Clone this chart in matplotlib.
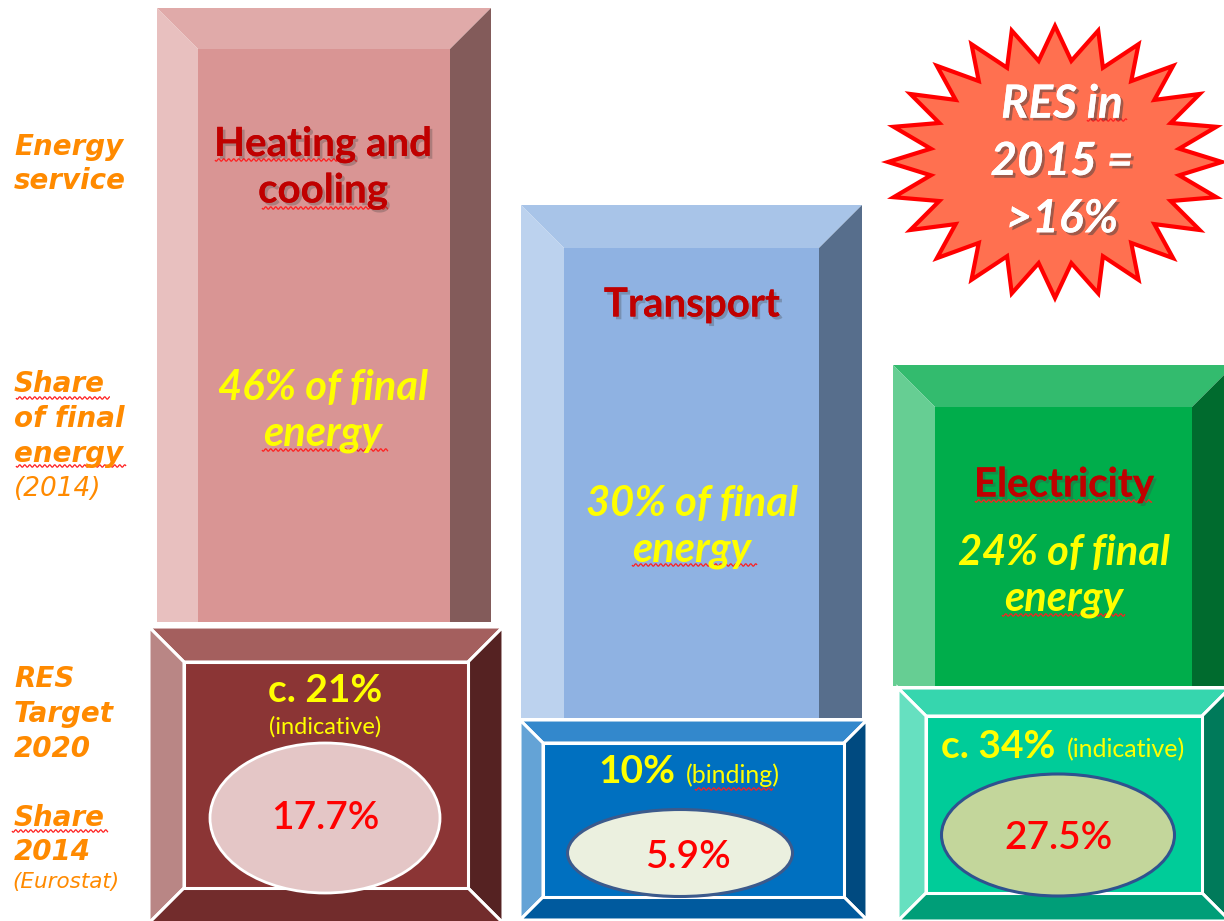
import matplotlib
matplotlib.use("Agg")
import matplotlib.pyplot as plt
import matplotlib.patheffects as pe
import numpy as np
from matplotlib.patches import Polygon, Ellipse

# ─── Data ───
categories = ["Heating and\ncooling", "Transport", "Electricity"]
share_final = ["46% of final\nenergy", "30% of final\nenergy", "24% of final\nenergy"]
res_target = ["c. 21%", "10%", "c. 34%"]
target_note = ["(indicative)", "(binding)", "(indicative)"]
share_2014 = ["17.7%", "5.9%", "27.5%"]
res_2015 = "RES in\n2015 =\n>16%"
row_labels = ["Energy\nservice", "Share\nof final\nenergy", "RES\nTarget\n2020", "Share\n2014"]
row_notes = ["(2014)", "(Eurostat)"]

CAL = ["Lato", "DejaVu Sans"]
ORANGE = "#FF8A00"
YELLOW = "#FFFF00"
DARKRED = "#C00000"


def bevel_box(ax, x0, y0, x1, y1, b, faces, bb=None, edge="none", lw=0):
    """faces = (top, left, right, bottom, centre); y grows downward."""
    bb = b if bb is None else bb
    top, left, right, bottom, centre = faces
    polys = [
        ([(x0, y0), (x1, y0), (x1 - b, y0 + b), (x0 + b, y0 + b)], top),
        ([(x0, y0), (x0 + b, y0 + b), (x0 + b, y1 - bb), (x0, y1)], left),
        ([(x1, y0), (x1 - b, y0 + b), (x1 - b, y1 - bb), (x1, y1)], right),
        ([(x0, y1), (x0 + b, y1 - bb), (x1 - b, y1 - bb), (x1, y1)], bottom),
        ([(x0 + b, y0 + b), (x1 - b, y0 + b), (x1 - b, y1 - bb), (x0 + b, y1 - bb)], centre),
    ]
    for pts, c in polys:
        ax.add_patch(Polygon(pts, closed=True, facecolor=c, edgecolor=edge,
                             linewidth=lw, joinstyle="miter"))


def squiggle(ax, x0, x1, y):
    # spell-check style wavy underline
    xs = np.linspace(x0, x1, int((x1 - x0) * 2))
    ax.plot(xs, y + 1.2 * np.sin((xs - x0) * 2 * np.pi / 5), color="#FF2020", lw=0.9,
            solid_capstyle="butt")


shadow = [pe.withSimplePatchShadow(offset=(2, -2), shadow_rgbFace="#444444", alpha=0.3), pe.Normal()]

fig = plt.figure(figsize=(12.24, 9.21), dpi=100)
ax = fig.add_axes([0, 0, 1, 1])
ax.set_xlim(0, 1224)
ax.set_ylim(921, 0)
ax.axis("off")

# ─── Upper boxes (energy service) ───
bevel_box(ax, 157, 8, 491, 622, 41, ("#E0AAA9", "#E8C0BF", "#835B5A", "#D99594", "#D99594"), bb=0)
bevel_box(ax, 521, 205, 862, 718, 43, ("#A8C4E8", "#BCD2EE", "#576E8C", "#8FB2E2", "#8FB2E2"), bb=0)
bevel_box(ax, 893, 365, 1234, 686, 42, ("#33BB6E", "#66CE93", "#006B2E", "#00AD4B", "#00AD4B"), bb=0)

# ─── Lower boxes (targets) ───
bevel_box(ax, 149, 627, 503, 923, 35, ("#A45F5E", "#B98685", "#552222", "#722C2C", "#8B3535"),
          edge="white", lw=2.2)
bevel_box(ax, 520, 720, 867, 920, 23, ("#3388CC", "#64A3D6", "#004A80", "#005A9E", "#0070C0"),
          edge="white", lw=2.2)
bevel_box(ax, 898, 688, 1230, 921, 28, ("#36D6AE", "#66E0C0", "#007A5A", "#009E78", "#00CC99"),
          edge="white", lw=2.2)

# ─── Ellipses for 2014 shares ───
ax.add_patch(Ellipse((325, 818), 230, 150, facecolor="#E4C6C6", edgecolor="white", lw=2))
ax.add_patch(Ellipse((680, 853), 225, 87, facecolor="#EBF0DF", edgecolor="#3C5A8C", lw=2.2))
ax.add_patch(Ellipse((1058, 835), 233, 122, facecolor="#C3D69B", edgecolor="#2F528F", lw=2.2))

# ─── Text in upper boxes ───
cx_top = [323, 692, 1064]
cy_title = [168, 305, 485]
cy_share = [411, 527, 576]
for i in range(3):
    ax.text(cx_top[i], cy_title[i], categories[i], ha="center", va="center", family=CAL,
            fontsize=29, fontweight="bold", color=DARKRED, linespacing=1.3, path_effects=shadow)
    ax.text(cx_top[i], cy_share[i], share_final[i], ha="center", va="center", family=CAL,
            fontsize=30, fontweight="bold", style="italic", color=YELLOW, linespacing=1.25)

# ─── Text in lower boxes ───
ax.text(325, 690, res_target[0], ha="center", va="center", family=CAL, fontsize=28,
        fontweight="bold", color=YELLOW)
ax.text(325, 727, target_note[0], ha="center", va="center", family=CAL, fontsize=17, color=YELLOW)
ax.text(675, 771, res_target[1], ha="right", va="center", family=CAL, fontsize=28,
        fontweight="bold", color=YELLOW)
ax.text(686, 775, target_note[1], ha="left", va="center", family=CAL, fontsize=18, color=YELLOW)
ax.text(1055, 746, res_target[2], ha="right", va="center", family=CAL, fontsize=28,
        fontweight="bold", color=YELLOW)
ax.text(1067, 750, target_note[2], ha="left", va="center", family=CAL, fontsize=18, color=YELLOW)

ell_c = [(325, 818), (688, 857), (1058, 838)]
for (x, y), s in zip(ell_c, share_2014):
    ax.text(x, y, s, ha="center", va="center", family=CAL, fontsize=28, fontweight="semibold",
            color="#FF0000")

# ─── Starburst ───
n_pts = 24
cx, cy, rx, ry = 1055, 162, 167, 136
ang = np.pi / 2 - np.arange(2 * n_pts) * np.pi / n_pts
rad = np.where(np.arange(2 * n_pts) % 2 == 0, 1.0, 0.75)
star = np.column_stack([cx + rx * rad * np.cos(ang), cy - ry * rad * np.sin(ang)])
ax.add_patch(Polygon(star, closed=True, facecolor="#FF7050", edgecolor="#FF0000", lw=3,
                     joinstyle="miter"))
ax.text(1062, 162, res_2015, ha="center", va="center", family=CAL, fontsize=33,
        fontweight="bold", style="italic", color="white", linespacing=1.45,
        path_effects=[pe.withSimplePatchShadow(offset=(2, -2), shadow_rgbFace="#444444", alpha=0.5),
                      pe.Normal()])

# ─── Row labels on the left ───
lab_y = [164, 419, 714, 835]
for y, s in zip(lab_y, row_labels):
    ax.text(14, y, s, ha="left", va="center", fontsize=20, fontweight="bold",
            style="italic", color=ORANGE, linespacing=1.3)
ax.text(14, 489, row_notes[0], ha="left", va="center", fontsize=19, style="italic", color=ORANGE)
ax.text(12, 882, row_notes[1], ha="left", va="center", fontsize=15.5, style="italic", color=ORANGE)

# ─── spell-check underlines, as in the source slide ───
for x0, x1, y in [(215, 357, 160), (262, 388, 208), (262, 388, 450), (632, 757, 565),
                  (975, 1152, 501), (1002, 1125, 615), (695, 773, 789), (1087, 1127, 120),
                  (16, 110, 398), (16, 126, 466), (12, 108, 831)]:
    squiggle(ax, x0, x1, y)

fig.savefig("out.png", dpi=100)
